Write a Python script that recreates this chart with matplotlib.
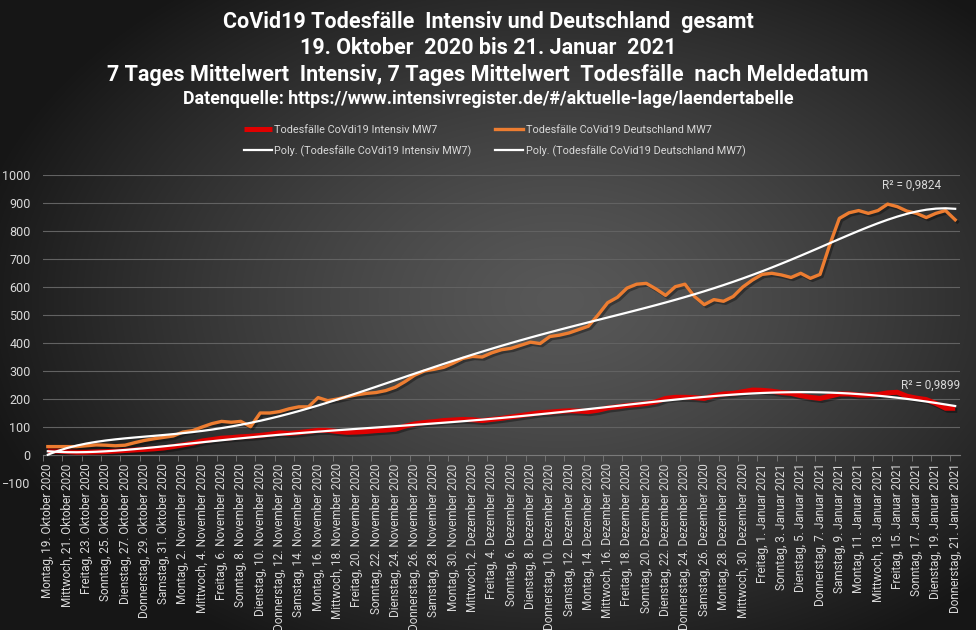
import numpy as np
import pandas as pd
import matplotlib
matplotlib.use("Agg")
import matplotlib.pyplot as plt
import matplotlib.patheffects as pe

# --- Daten (7-Tages-Mittelwerte) ---
start_datum = "2020-10-19"
end_datum = "2021-01-21"

tote_intensiv = [
    15, 14, 12, 10, 10, 11, 12, 14, 16, 18,
    20, 22, 25, 30, 36, 42, 50, 55, 60, 62,
    65, 67, 70, 74, 79, 77, 80, 84, 88, 88,
    84, 81, 82, 84, 87, 89, 92, 103, 111, 116,
    119, 123, 125, 127, 126, 123, 127, 131, 136, 141,
    146, 151, 153, 156, 158, 157, 155, 160, 168, 172,
    177, 180, 184, 190, 202, 206, 206, 205, 202, 212,
    218, 220, 226, 232, 231, 228, 223, 220, 212, 206,
    202, 210, 218, 218, 214, 214, 216, 222, 224, 210,
    203, 198, 184, 167, 167,
]

tote_deutschland = [
    30, 30, 30, 30, 33, 36, 35, 33, 35, 44,
    52, 58, 63, 68, 82, 87, 100, 112, 120, 117,
    120, 101, 150, 150, 155, 165, 172, 172, 205, 194,
    200, 208, 215, 220, 223, 230, 242, 262, 285, 300,
    306, 313, 328, 345, 352, 350, 365, 376, 381, 392,
    403, 398, 423, 428, 436, 448, 460, 500, 544, 563,
    596, 610, 613, 593, 570, 601, 610, 566, 537, 555,
    549, 566, 600, 625, 645, 649, 643, 634, 649, 631,
    645, 750, 845, 865, 873, 863, 873, 896, 887, 871,
    863, 848, 863, 873, 840,
]

r2_texte = ["R² = 0,9899", "R² = 0,9824"]

wochentage = ["Montag", "Dienstag", "Mittwoch", "Donnerstag", "Freitag", "Samstag", "Sonntag"]
monate = ["Januar", "Februar", "März", "April", "Mai", "Juni", "Juli", "August",
          "September", "Oktober", "November", "Dezember"]

titel_zeilen = [
    "CoVid19 Todesfälle  Intensiv und Deutschland  gesamt",
    "19. Oktober  2020 bis 21. Januar  2021",
    "7 Tages Mittelwert  Intensiv, 7 Tages Mittelwert  Todesfälle  nach Meldedatum",
]
quelle = "Datenquelle: https://www.intensivregister.de/#/aktuelle-lage/laendertabelle"

# --- Labels ---
datum = pd.date_range(start_datum, end_datum, freq="D")
labels = [f"{wochentage[d.weekday()]}, {d.day}. {monate[d.month - 1]} {d.year}" for d in datum]
x = np.arange(len(datum))

# polynomische Trendlinien (wie Excel, Ordnung 6)
def trend(werte):
    p = np.polynomial.Polynomial.fit(x, werte, 6)
    return p(x)

plt.rcParams["font.family"] = ["Roboto", "DejaVu Sans"]
GRAU = "#d9d9d9"

fig = plt.figure(figsize=(9.76, 6.3), dpi=100)

# Hintergrund mit radialem Verlauf
bg = fig.add_axes([0, 0, 1, 1])
yy, xx = np.mgrid[0:630, 0:976]
r = np.sqrt(((xx - 560) / 600.0) ** 2 + ((yy - 300) / 400.0) ** 2)
r = np.clip(r, 0, 1)
c_in, c_out = 0x58 / 255, 0x16 / 255
img = c_in + (c_out - c_in) * r ** 1.3
bg.imshow(np.dstack([img, img, img]), aspect="auto", extent=[0, 1, 0, 1])
bg.axis("off")

ax = fig.add_axes([43 / 976, 1 - 483 / 630, 917 / 976, 308 / 630])
ax.patch.set_alpha(0)

schatten = [pe.SimpleLineShadow(offset=(1.5, -1.5), alpha=0.35), pe.Normal()]
l_rot, = ax.plot(x, tote_intensiv, color="#E00000", lw=3.6, solid_capstyle="butt",
                 label="Todesfälle CoVdi19 Intensiv MW7", path_effects=schatten, zorder=3)
l_or, = ax.plot(x, tote_deutschland, color="#ED7D31", lw=2.4,
                label="Todesfälle CoVid19 Deutschland MW7", path_effects=schatten, zorder=3)
t_rot, = ax.plot(x, trend(tote_intensiv), color="white", lw=1.6,
                 label="Poly. (Todesfälle CoVdi19 Intensiv MW7)", zorder=4)
t_or, = ax.plot(x, trend(tote_deutschland), color="white", lw=1.6,
                label="Poly. (Todesfälle CoVid19 Deutschland MW7)", zorder=4)

ax.set_xlim(-0.5, len(x) - 0.5)
ax.set_ylim(-100, 1000)
ax.set_yticks(range(-100, 1001, 100))
ax.tick_params(axis="y", length=0, labelsize=9, colors=GRAU, pad=9)
ax.grid(axis="y", color="#626262", lw=0.8)
ax.set_axisbelow(True)

for s in ["top", "right", "left"]:
    ax.spines[s].set_visible(False)
ax.spines["bottom"].set_position(("data", 0))
ax.spines["bottom"].set_color("#7a7a7a")

ax.set_xticks(x[::2])
ax.set_xticklabels(labels[::2], rotation=90, fontsize=8.5, color=GRAU)
ax.set_xticks(np.arange(-0.5, len(x), 2), minor=True)
ax.tick_params(axis="x", which="major", length=0, pad=6)
ax.tick_params(axis="x", which="minor", length=4, color="#7a7a7a")

ax.text(89.5, trend(tote_deutschland)[-1] + 72, r2_texte[1], fontsize=8.5, color=GRAU, ha="center")
ax.text(91.5, 235, r2_texte[0], fontsize=8.5, color=GRAU, ha="center")

for zeile, y_px in zip(titel_zeilen, [22, 48, 75]):
    fig.text(0.5, 1 - y_px / 630, zeile, ha="center", va="center", color="white",
             fontsize=15.5, fontweight="bold")
fig.text(0.5, 1 - 99 / 630, quelle, ha="center", va="center", color="white",
         fontsize=12.8, fontweight="bold")

leg = fig.legend(handles=[l_rot, t_rot, l_or, t_or], ncol=2, loc="upper left",
                 bbox_to_anchor=(234 / 976, 1 - 115 / 630), frameon=False,
                 fontsize=7.8, labelcolor=GRAU, handlelength=2.6, handletextpad=0.2,
                 columnspacing=2.2, labelspacing=0.95)
for h in leg.legend_handles:
    h.set_path_effects([])

fig.savefig("out.png", dpi=100)
